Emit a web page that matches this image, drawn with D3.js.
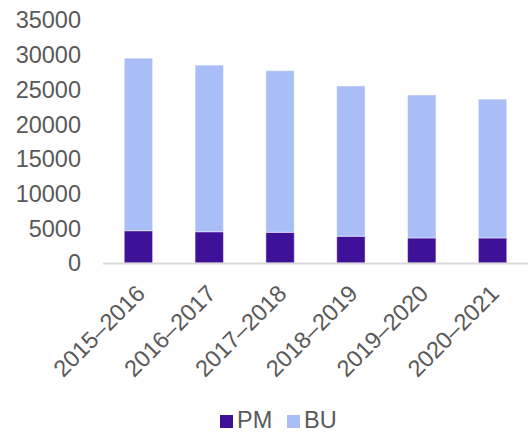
<!DOCTYPE html>
<html>
<head>
<meta charset="utf-8">
<script src="https://cdn.jsdelivr.net/npm/d3@7/dist/d3.min.js"></script>
<style>
  body { margin: 0; background: #fff; }
  svg { display: block; font-family: "Liberation Sans", Arial, sans-serif; }
  .tick-label { fill: #595959; font-size: 23.5px; }
</style>
</head>
<body>
<div class="chart"></div>
<script>
const years = ["2015–2016", "2016–2017", "2017–2018", "2018–2019", "2019–2020", "2020–2021"];
const pm = [4650, 4500, 4420, 3850, 3600, 3600];
const bu = [24850, 24000, 23280, 21650, 20600, 20000];
const yTicks = [0, 5000, 10000, 15000, 20000, 25000, 30000, 35000];
const seriesNames = ["PM", "BU"];
const colors = {PM: "#3f1098", BU: "#a9bef7"};

const width = 528, height = 432;
const margin = {top: 20, right: 0, bottom: 169, left: 103};

const svg = d3.select(".chart").append("svg")
    .attr("width", width)
    .attr("height", height);

const rows = years.map((yr, i) => ({year: yr, PM: pm[i], BU: bu[i]}));
const stacked = d3.stack().keys(seriesNames)(rows);

const x = d3.scaleBand()
    .domain(years)
    .range([margin.left, width - margin.right])
    .paddingInner(0.6)
    .paddingOuter(0.3);

const y = d3.scaleLinear()
    .domain([0, 35000])
    .range([height - margin.bottom, margin.top]);

// y labels, no axis line
svg.append("g")
    .selectAll("text")
    .data(yTicks)
  .enter().append("text")
    .attr("class", "tick-label")
    .attr("x", 81)
    .attr("y", (d) => y(d))
    .attr("dy", "0.36em")
    .attr("text-anchor", "end")
    .text((d) => d);

// bars
svg.append("g")
    .selectAll("g")
    .data(stacked)
  .enter().append("g")
    .attr("fill", (s) => colors[s.key])
    .selectAll("rect")
    .data((s) => s)
  .enter().append("rect")
    .attr("x", (d) => x(d.data.year))
    .attr("y", (d) => y(d[1]))
    .attr("width", x.bandwidth())
    .attr("height", (d) => y(d[0]) - y(d[1]))
    .attr("stroke", "rgba(255,255,255,0.45)")
    .attr("stroke-width", 1);

// x axis line
svg.append("line")
    .attr("x1", margin.left)
    .attr("x2", width)
    .attr("y1", y(0) + 0.5)
    .attr("y2", y(0) + 0.5)
    .attr("stroke", "#d9d9d9")
    .attr("stroke-width", 2);

// rotated category labels
svg.append("g")
    .selectAll("text")
    .data(years)
  .enter().append("text")
    .attr("class", "tick-label")
    .attr("text-anchor", "end")
    .attr("transform", (d) => "translate(" + (x(d) + x.bandwidth() / 2 + 8) + "," + (y(0) + 32) + ") rotate(-45)")
    .text((d) => d);

// legend
const legend = svg.append("g");
const legendItems = [
  {name: "PM", sx: 220, tx: 237},
  {name: "BU", sx: 287, tx: 304}
];
legend.selectAll("rect")
    .data(legendItems)
  .enter().append("rect")
    .attr("x", (d) => d.sx)
    .attr("y", 415)
    .attr("width", 13)
    .attr("height", 13)
    .attr("fill", (d) => colors[d.name]);
legend.selectAll("text")
    .data(legendItems)
  .enter().append("text")
    .attr("class", "tick-label")
    .attr("x", (d) => d.tx)
    .attr("y", 427.5)
    .text((d) => d.name);
</script>
</body>
</html>
